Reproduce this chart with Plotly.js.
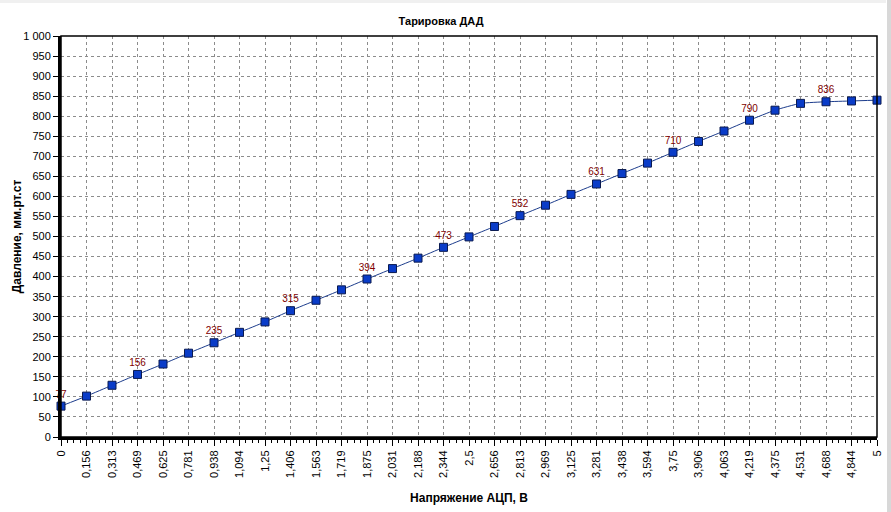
<!DOCTYPE html>
<html>
<head>
<meta charset="utf-8">
<script src="https://cdn.plot.ly/plotly-3.0.1.min.js"></script>
<style>
  html, body { margin: 0; padding: 0; background: #ffffff; }
  #chart { width: 891px; height: 512px; position: absolute; left: 0; top: 0; }
  #topbar { position: absolute; left: 0; top: 0; width: 891px; height: 3px; background: #f0f0f0; }
  #rightbar { position: absolute; left: 886px; top: 0; width: 5px; height: 512px; background: #d8d8d8; border-left: 1px solid #ffffff; }
</style>
</head>
<body>
<div id="chart"></div>
<div id="topbar"></div>
<div id="rightbar"></div>
<script>
const voltage = [0, 0.15625, 0.3125, 0.46875, 0.625, 0.78125, 0.9375, 1.09375, 1.25, 1.40625, 1.5625,
  1.71875, 1.875, 2.03125, 2.1875, 2.34375, 2.5, 2.65625, 2.8125, 2.96875, 3.125, 3.28125,
  3.4375, 3.59375, 3.75, 3.90625, 4.0625, 4.21875, 4.375, 4.53125, 4.6875, 4.84375, 5];
const tickLabels = ["0", "0,156", "0,313", "0,469", "0,625", "0,781", "0,938", "1,094", "1,25", "1,406", "1,563",
  "1,719", "1,875", "2,031", "2,188", "2,344", "2,5", "2,656", "2,813", "2,969", "3,125", "3,281",
  "3,438", "3,594", "3,75", "3,906", "4,063", "4,219", "4,375", "4,531", "4,688", "4,844", "5"];
const pressure = [77, 102, 129, 156, 182, 209, 235, 261, 287, 315, 341, 367, 394, 420, 446, 473, 499,
  525, 552, 578, 605, 631, 657, 683, 710, 737, 763, 790, 815, 832, 836, 838, 840];
const pointLabels = ["77", "", "", "156", "", "", "235", "", "", "315", "", "", "394", "", "", "473", "",
  "", "552", "", "", "631", "", "", "710", "", "", "790", "", "", "836", "", ""];

const font = "Liberation Sans, Arial, sans-serif";

const trace = {
  x: voltage,
  y: pressure,
  type: "scatter",
  mode: "lines+markers+text",
  text: pointLabels,
  textposition: "top center",
  textfont: { family: font, size: 10, color: "#800000" },
  line: { color: "#1c3c8c", width: 1, shape: "spline", smoothing: 0.5 },
  marker: { symbol: "square", size: 8, color: "#0a3cc8", line: { color: "#0a1a50", width: 1 } },
  cliponaxis: false,
  hoverinfo: "none"
};

const layout = {
  width: 891,
  height: 512,
  margin: { l: 61, r: 14, t: 36, b: 75 },
  paper_bgcolor: "#ffffff",
  plot_bgcolor: "#ffffff",
  separators: ", ",
  showlegend: false,
  font: { family: font, size: 11, color: "#000000" },
  title: {
    text: "<b>Тарировка ДАД</b>",
    font: { family: font, size: 11, color: "#000000" },
    x: 0.495, xanchor: "center", y: 0.958, yanchor: "middle"
  },
  xaxis: {
    range: [0, 5],
    tickmode: "array",
    tickvals: voltage,
    ticktext: tickLabels,
    tickangle: -90,
    ticks: "outside",
    ticklen: 6,
    tickwidth: 1,
    tickcolor: "#000000",
    tickfont: { family: font, size: 11, color: "#000000" },
    showline: true,
    linecolor: "#000000",
    linewidth: 3,
    showgrid: true,
    gridcolor: "#8c8c8c",
    griddash: "dot",
    gridwidth: 1,
    zeroline: false,
    minor: { dtick: 0.0390625, tick0: 0, ticks: "outside", ticklen: 3, tickcolor: "#000000", showgrid: false },
    title: { text: "<b>Напряжение АЦП, В</b>", font: { family: font, size: 12, color: "#000000" }, standoff: 17 }
  },
  yaxis: {
    range: [0, 1000],
    tickmode: "linear",
    tick0: 0,
    dtick: 50,
    ticks: "outside",
    ticklen: 5,
    tickcolor: "#000000",
    tickformat: ",d",
    tickfont: { family: font, size: 11, color: "#000000" },
    showline: true,
    linecolor: "#000000",
    linewidth: 3,
    showgrid: true,
    gridcolor: "#8c8c8c",
    griddash: "dot",
    gridwidth: 1,
    zeroline: false,
    title: { text: "<b>Давление, мм.рт.ст</b>", font: { family: font, size: 12, color: "#000000" }, standoff: 0 }
  },
  shapes: [
    { type: "rect", xref: "paper", yref: "paper", x0: 0, x1: 1, y0: 0, y1: 1,
      line: { color: "#000000", width: 1.5 }, fillcolor: "rgba(0,0,0,0)", layer: "above" }
  ]
};

Plotly.newPlot("chart", [trace], layout, { staticPlot: true, displayModeBar: false });
</script>
</body>
</html>
